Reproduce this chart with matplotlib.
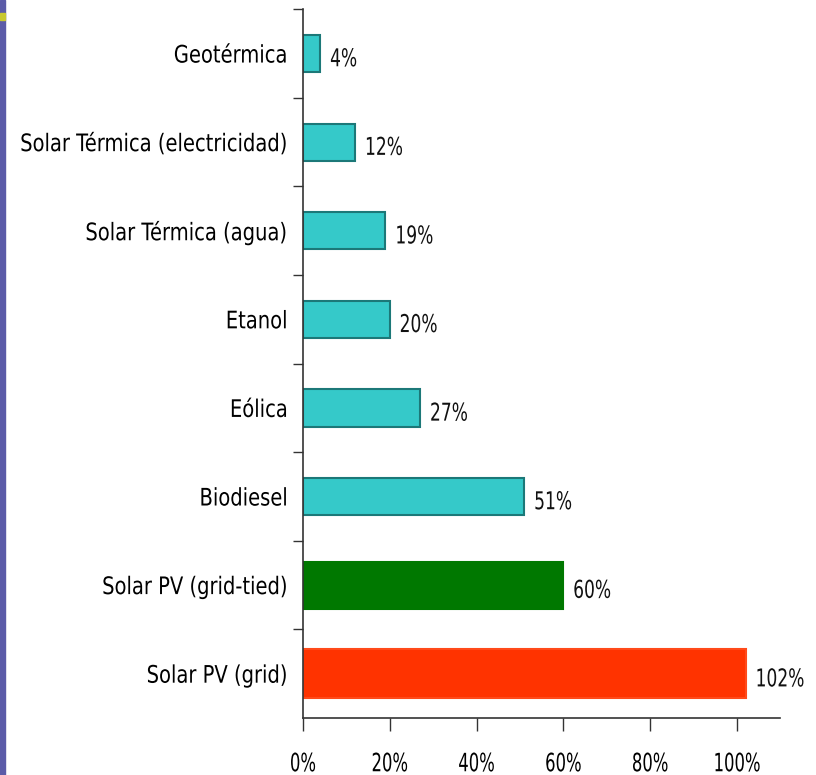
import matplotlib
matplotlib.use("Agg")
import matplotlib.pyplot as plt
from matplotlib.patches import Rectangle
from matplotlib.patheffects import AbstractPathEffect
from matplotlib.transforms import Affine2D
from matplotlib.ticker import FixedLocator, PercentFormatter

categories = [
    "Geotérmica",
    "Solar Térmica (electricidad)",
    "Solar Térmica (agua)",
    "Etanol",
    "Eólica",
    "Biodiesel",
    "Solar PV (grid-tied)",
    "Solar PV (grid)",
]
values = [4, 12, 19, 20, 27, 51, 60, 102]
bar_colors = ["#35C9C9"] * 6 + ["#007800", "#FF3300"]
edge_colors = ["#1C7878"] * 6 + ["#007800", "#FF4A1A"]
bar_heights = [0.42] * 6 + [0.53, 0.55]


class Squeeze(AbstractPathEffect):
    # the source font is narrow and tall: rescale glyphs (x about an anchor, y about cap middle)
    def __init__(self, sx, sy, anchor="left"):
        super().__init__()
        self.sx = sx
        self.sy = sy
        self.anchor = anchor

    def draw_path(self, renderer, gc, tpath, affine, rgbFace=None):
        ext = tpath.get_extents()
        if self.anchor == "right":
            a = ext.x1
        elif self.anchor == "center":
            a = (ext.x0 + ext.x1) / 2
        else:
            a = ext.x0
        cy = 36.0
        t = Affine2D().translate(-a, -cy).scale(self.sx, self.sy).translate(a, cy) + affine
        renderer.draw_path(gc, tpath, t, rgbFace)


fig = plt.figure(figsize=(8.16, 7.75), dpi=100)
ax = fig.add_axes([0.3713, 0.0735, 0.585, 0.9145])

pos = list(range(len(categories)))
ax.barh(pos, values, height=bar_heights, color=bar_colors, edgecolor=edge_colors, linewidth=1.5)
for p, v in zip(pos, values):
    ax.text(v + 2.2, p + 0.06, f"{v}%", va="center", ha="left", fontsize=15,
            color="#111111", path_effects=[Squeeze(0.82, 1.18, "left")])

ax.set_ylim(len(categories) - 0.5, -0.5)
ax.set_xlim(0, 110)
ax.set_yticks(pos)
ax.set_yticklabels(categories, fontsize=14.5)
ax.yaxis.set_minor_locator(FixedLocator([p - 0.5 for p in pos]))
ax.tick_params(axis="y", which="major", length=0, pad=11)
ax.tick_params(axis="y", which="minor", length=7, width=1, color="#333333")
ax.set_xticks([0, 20, 40, 60, 80, 100])
ax.xaxis.set_major_formatter(PercentFormatter(decimals=0))
ax.tick_params(axis="x", length=9, width=1, color="#333333", labelsize=14, pad=17)

for lbl in ax.get_yticklabels():
    lbl.set_path_effects([Squeeze(0.97, 1.2, "right")])
for lbl in ax.get_xticklabels():
    lbl.set_path_effects([Squeeze(0.845, 1.3, "center")])

for s in ["top", "right"]:
    ax.spines[s].set_visible(False)
for s in ["left", "bottom"]:
    ax.spines[s].set_color("#333333")
    ax.spines[s].set_linewidth(1.2)

# left border strip of the slide
fig.patches.append(Rectangle((0, 0), 0.0065, 1, transform=fig.transFigure, color="#5B5BA8", zorder=0))
fig.patches.append(Rectangle((0, 0.974), 0.0065, 0.009, transform=fig.transFigure, color="#C8C830", zorder=1))

fig.savefig("out.png", dpi=100)
